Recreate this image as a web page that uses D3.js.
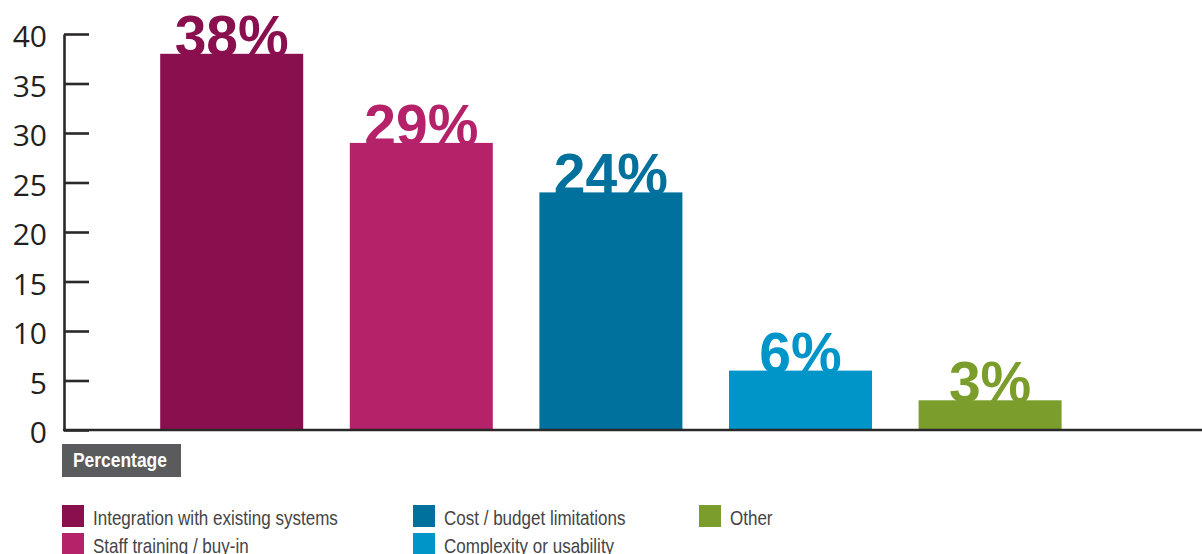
<!DOCTYPE html>
<html>
<head>
<meta charset="utf-8">
<script src="https://cdn.jsdelivr.net/npm/d3@7"></script>
<style>
  html, body { margin: 0; padding: 0; background: #ffffff; }
  svg { display: block; }
</style>
</head>
<body>
<svg id="chart" width="1202" height="554"></svg>
<script>
// Survey results: share of respondents naming each barrier
const categories = [
  "Integration with existing systems",
  "Staff training / buy-in",
  "Cost / budget limitations",
  "Complexity or usability",
  "Other"
];
const values = [38, 29, 24, 6, 3];
const colors = ["#8a0f4e", "#b5226a", "#00709c", "#0095c8", "#7a9d2c"];
const yTicks = [0, 5, 10, 15, 20, 25, 30, 35, 40];
const axisTitle = "Percentage";

const svg = d3.select("#chart");

const y = d3.scaleLinear().domain([0, 40]).range([430, 34]);
const x = d3.scaleBand()
  .domain(categories)
  .range([160.2, 1061.6])
  .paddingInner(0.2458)
  .paddingOuter(0);

const color = d3.scaleOrdinal().domain(categories).range(colors);
const axisColor = "#2a2829";

// Condensed look for the small labels: regular sans squeezed horizontally
const condense = 0.83;

// Bars
svg.append("g")
  .selectAll("rect")
  .data(categories)
  .join("rect")
  .attr("x", d => x(d))
  .attr("y", (d, i) => y(values[i]))
  .attr("width", x.bandwidth())
  .attr("height", (d, i) => y(0) - y(values[i]))
  .attr("fill", d => color(d));

// Value labels sitting on the bar tops
svg.append("g")
  .selectAll("text")
  .data(categories)
  .join("text")
  .attr("x", d => x(d) + x.bandwidth() / 2)
  .attr("y", (d, i) => y(values[i]) + 2)
  .attr("text-anchor", "middle")
  .attr("font-family", "'Liberation Sans', Arial, sans-serif")
  .attr("font-weight", "bold")
  .attr("font-size", "57px")
  .attr("fill", d => color(d))
  .text((d, i) => values[i] + "%");

// Y axis
const yAxis = d3.axisLeft(y)
  .tickValues(yTicks)
  .tickSize(-25)
  .tickSizeOuter(0)
  .tickPadding(17);

const gy = svg.append("g")
  .attr("transform", "translate(64,0)")
  .call(yAxis);
gy.select(".domain")
  .attr("stroke", axisColor)
  .attr("stroke-width", 2.6);
gy.selectAll(".tick line")
  .attr("stroke", axisColor)
  .attr("stroke-width", 2.6);
gy.selectAll(".tick text")
  .attr("font-family", "'Open Sans', sans-serif")
  .attr("font-size", "30px")
  .attr("fill", "#231f20")
  .attr("dy", "0.42em");

// Baseline across the full width
svg.append("line")
  .attr("x1", 63)
  .attr("x2", 1202)
  .attr("y1", y(0))
  .attr("y2", y(0))
  .attr("stroke", axisColor)
  .attr("stroke-width", 2.6);

// Axis title badge
const badge = svg.append("g").attr("transform", "translate(62,444)");
badge.append("rect")
  .attr("width", 119)
  .attr("height", 33)
  .attr("fill", "#5a5b5d");
badge.append("text")
  .attr("transform", `translate(11,23) scale(${condense},1)`)
  .attr("font-family", "'Liberation Sans', Arial, sans-serif")
  .attr("font-weight", "bold")
  .attr("font-size", "21px")
  .attr("fill", "#ffffff")
  .text(axisTitle);

// Legend: three columns, two rows
const legendCols = [62, 413, 699];
const legendRows = [505, 533];
const legendPos = [[0, 0], [0, 1], [1, 0], [1, 1], [2, 0]];

const legend = svg.append("g")
  .selectAll("g")
  .data(categories)
  .join("g")
  .attr("transform", (d, i) =>
    `translate(${legendCols[legendPos[i][0]]},${legendRows[legendPos[i][1]]})`);

legend.append("rect")
  .attr("width", 22)
  .attr("height", 22)
  .attr("fill", d => color(d));

legend.append("text")
  .attr("transform", `translate(31,20) scale(${condense},1)`)
  .attr("font-family", "'Liberation Sans', Arial, sans-serif")
  .attr("font-size", "20.5px")
  .attr("fill", "#444446")
  .text(d => d);
</script>
</body>
</html>
